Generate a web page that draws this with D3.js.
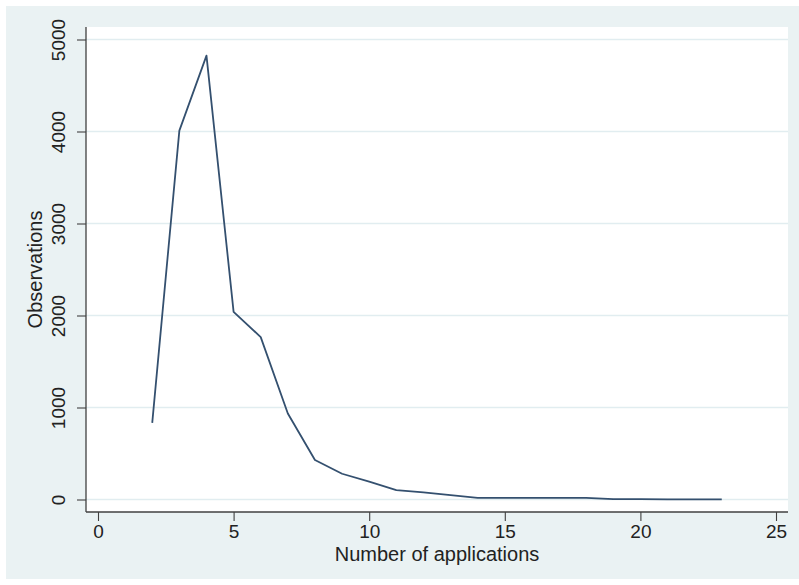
<!DOCTYPE html>
<html>
<head>
<meta charset="utf-8">
<script src="https://cdn.jsdelivr.net/npm/d3@7"></script>
<style>
  html, body { margin: 0; padding: 0; background: #ffffff; }
  svg { display: block; }
</style>
</head>
<body>
<svg id="chart" width="799" height="585"></svg>
<script>
// Number of applications per applicant and how many observations fall in each
const applications = [2, 3, 4, 5, 6, 7, 8, 9, 10, 11, 12, 13, 14, 15, 16, 17, 18, 19, 20, 21, 22, 23];
const observations = [832, 4010, 4825, 2040, 1765, 935, 430, 280, 195, 103, 78, 48, 18, 18, 18, 18, 18, 3, 3, 2, 2, 2];
const xTicks = [0, 5, 10, 15, 20, 25];
const yTicks = [0, 1000, 2000, 3000, 4000, 5000];
const xTitle = "Number of applications";
const yTitle = "Observations";

const svg = d3.select("#chart");
const font = "'Liberation Sans', Arial, Helvetica, sans-serif";

// graph region (outer) and plot region (inner)
const outer = { x0: 6, y0: 6, x1: 799, y1: 579 };
const plot = { x0: 86, y0: 27, x1: 788, y1: 512 };

svg.append("rect")
  .attr("x", outer.x0).attr("y", outer.y0)
  .attr("width", outer.x1 - outer.x0).attr("height", outer.y1 - outer.y0)
  .attr("fill", "#eaf2f3");

svg.append("rect")
  .attr("x", plot.x0).attr("y", plot.y0)
  .attr("width", plot.x1 - plot.x0).attr("height", plot.y1 - plot.y0)
  .attr("fill", "#ffffff");

const x = d3.scaleLinear().domain([0, 25]).range([98, 776]);
const y = d3.scaleLinear().domain([0, 5000]).range([499.5, 39.5]);

// horizontal gridlines
svg.append("g")
  .selectAll("line")
  .data(yTicks)
  .join("line")
  .attr("x1", plot.x0).attr("x2", plot.x1)
  .attr("y1", d => y(d)).attr("y2", d => y(d))
  .attr("stroke", "#e1edf0")
  .attr("stroke-width", 1.3);

// y axis
const yAxis = svg.append("g")
  .attr("transform", `translate(${plot.x0},0)`)
  .call(d3.axisLeft(y).tickValues(yTicks).tickSize(9).tickPadding(4).tickFormat(d3.format("d")));
yAxis.select(".domain").attr("d", `M0,${plot.y0}V${plot.y1}`).attr("stroke", "#404040").attr("stroke-width", 1.3);
yAxis.selectAll(".tick line").attr("stroke", "#404040").attr("stroke-width", 1.1);
yAxis.selectAll(".tick text")
  .attr("font-family", font).attr("font-size", 19).attr("fill", "#222")
  .attr("text-anchor", "middle")
  .attr("x", 0).attr("dy", null)
  .attr("transform", "translate(-21,0) rotate(-90)");

// x axis
const xAxis = svg.append("g")
  .attr("transform", `translate(0,${plot.y1})`)
  .call(d3.axisBottom(x).tickValues(xTicks).tickSize(9).tickPadding(4).tickFormat(d3.format("d")));
xAxis.select(".domain").attr("d", `M${plot.x0},0H${plot.x1}`).attr("stroke", "#404040").attr("stroke-width", 1.6);
xAxis.selectAll(".tick line").attr("stroke", "#404040").attr("stroke-width", 1.1);
xAxis.selectAll(".tick text")
  .attr("font-family", font).attr("font-size", 19).attr("fill", "#222")
  .attr("y", 26).attr("dy", null);

// axis titles
svg.append("text")
  .attr("x", (plot.x0 + plot.x1) / 2).attr("y", 561)
  .attr("text-anchor", "middle")
  .attr("font-family", font).attr("font-size", 20).attr("fill", "#222")
  .text(xTitle);

svg.append("text")
  .attr("transform", `translate(41.5,${(plot.y0 + plot.y1) / 2}) rotate(-90)`)
  .attr("text-anchor", "middle")
  .attr("font-family", font).attr("font-size", 20).attr("fill", "#222")
  .text(yTitle);

// observations line
const line = d3.line()
  .x((d, i) => x(applications[i]))
  .y(d => y(d));

svg.append("path")
  .datum(observations)
  .attr("d", line)
  .attr("fill", "none")
  .attr("stroke", "#34506f")
  .attr("stroke-width", 1.8)
  .attr("stroke-linejoin", "round");
</script>
</body>
</html>
